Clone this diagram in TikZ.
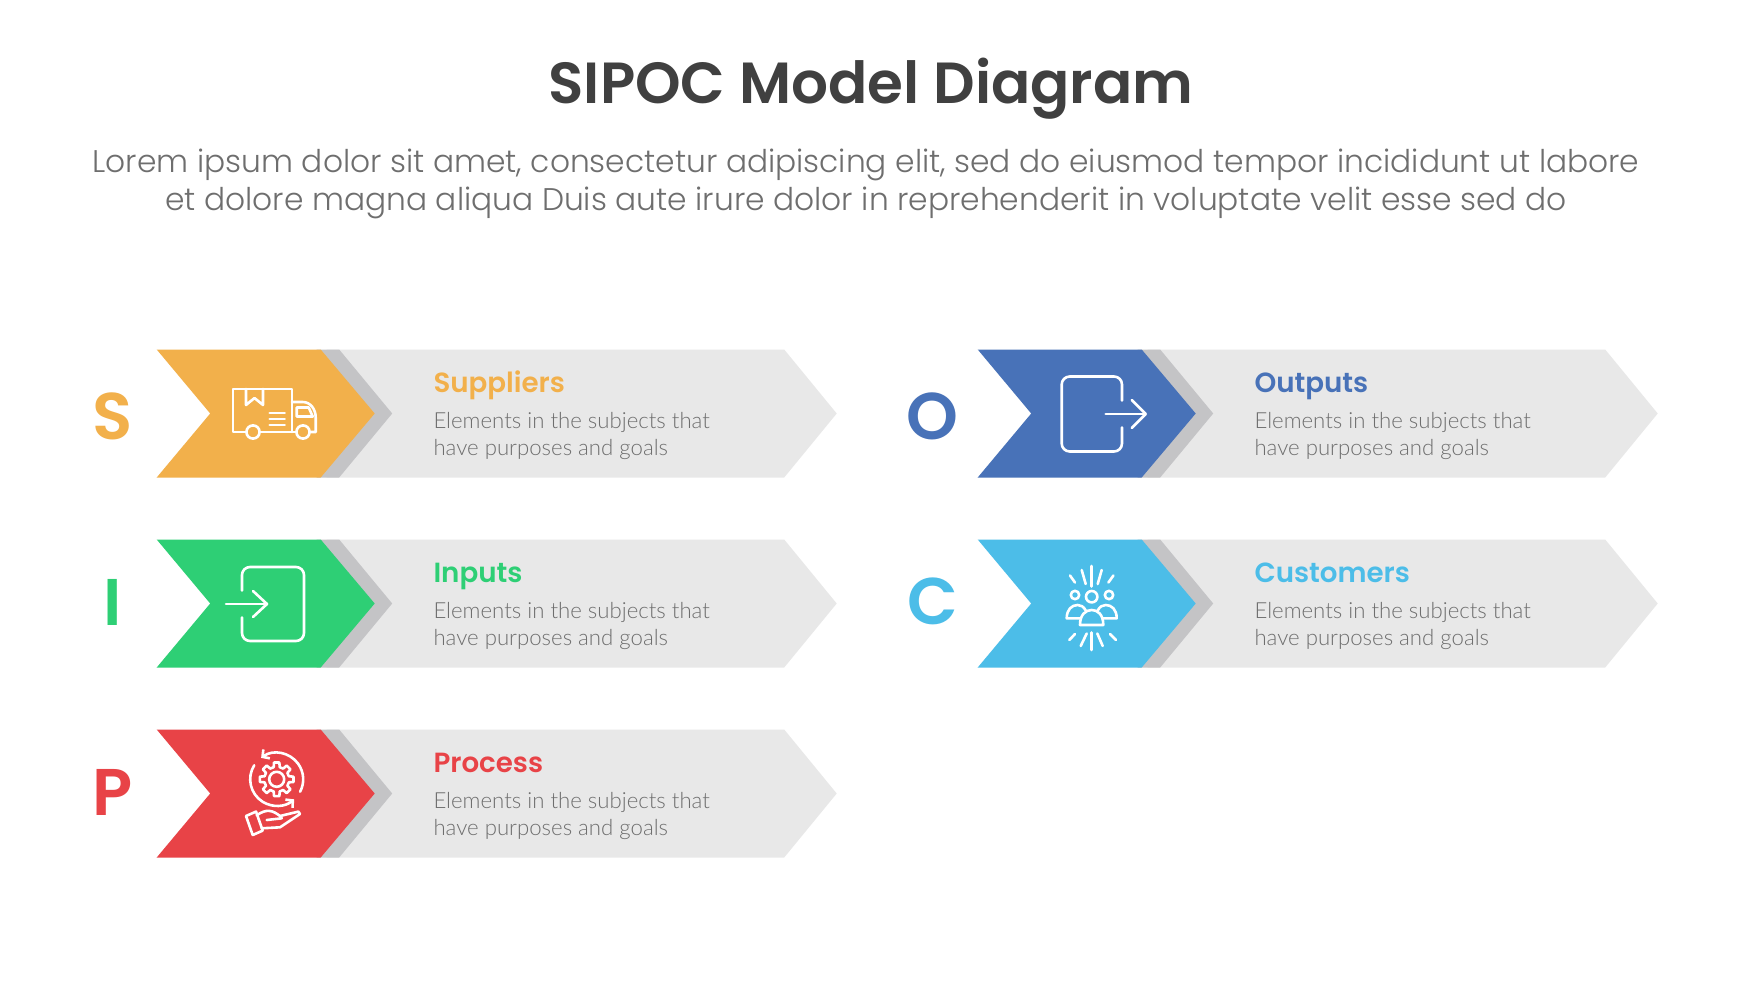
\documentclass[tikz,border=0pt]{standalone}
\usepackage{fontspec}
\usetikzlibrary{arrows.meta}
\setmainfont{Poppins}
\newfontfamily\titlefont{Poppins SemiBold}
\newfontfamily\leadfont{Poppins Light}
\newfontfamily\bodyfont{Lato Light}
\definecolor{supplierscol}{HTML}{F2B04B}
\definecolor{inputscol}{HTML}{2ECF75}
\definecolor{processcol}{HTML}{E84347}
\definecolor{outputscol}{HTML}{4872B8}
\definecolor{customerscol}{HTML}{4CBDE8}
\definecolor{panelcol}{HTML}{E8E8E8}
\definecolor{shadecol}{HTML}{C4C4C6}
\definecolor{titlecol}{HTML}{404040}
\definecolor{leadcol}{HTML}{6E6E6E}
\begin{document}
\begin{tikzpicture}[x=1pt, y=-1pt]
            \tikzstyle{panel} = [fill=panelcol]
            \tikzstyle{shade} = [fill=shadecol]
            \tikzstyle{icon} = [draw=white, line width=2.6pt, line cap=round, line join=round]
            \tikzstyle{letter} = [anchor=base, inner sep=0pt, font=\titlefont\fontsize{66}{66}\selectfont]
            \tikzstyle{heading} = [anchor=base west, inner sep=0pt, font=\titlefont\fontsize{27.7}{28}\selectfont]
            \tikzstyle{body} = [anchor=west, inner sep=0pt, align=left, text=leadcol, font=\bodyfont\fontsize{22.2}{27}\selectfont]
            \useasboundingbox (0, 0) rectangle (1742, 980);
            \fill[white] (0, 0) rectangle (1742, 980);
            \node[text=titlecol, font=\titlefont\fontsize{58}{58}\selectfont] (title) at (871, 88.5) {SIPOC Model Diagram};
            \node[align=center, text=leadcol, font=\leadfont\fontsize{31.3}{38}\selectfont] (lead) at (866, 184) {Lorem ipsum dolor sit amet, consectetur adipiscing elit, sed do eiusmod tempor incididunt ut labore\\et dolore magna aliqua Duis aute irure dolor in reprehenderit in voluptate velit esse sed do};
            \begin{scope}[xshift=156.7pt, yshift=-349.5pt]
                \fill[panel] (170, 0) -- (627.5, 0) -- (680, 64) -- (627.5, 128) -- (170, 128) -- cycle;
                \fill[shade] (160, 0) -- (182.5, 0) -- (235.5, 64) -- (182.5, 128) -- (160, 128) -- cycle;
                \fill[supplierscol] (0, 0) -- (164, 0) -- (218, 64) -- (164, 128) -- (0, 128) -- (53.5, 64) -- cycle;
                \node[letter, text=supplierscol] (lettersuppliers) at (-44.5, 89.5) {S};
                \node[heading, text=supplierscol] (headsuppliers) at (276.6, 43) {Suppliers};
                \node[body] (bodysuppliers) at (276.6, 86.5) {Elements in the subjects that\\have purposes and goals};
                \draw[icon] (89.5, 82.5) -- (76.3, 82.5) -- (76.3, 39.5) -- (135.3, 39.5) -- (135.3, 82.5);
                \draw[icon] (103, 82.5) -- (139.6, 82.5);
                \draw[icon] (135.3, 52.5) -- (146, 52.5) .. controls (154, 52.5) and (159, 60) .. (159, 68) -- (159, 82.5) -- (153, 82.5);
                \draw[icon] (140, 58) -- (152, 58) -- (156, 67) -- (140, 67) -- cycle;
                \draw[icon] (96.3, 82.5) circle (6.6pt);
                \draw[icon] (146.3, 82.5) circle (6.6pt);
                \draw[icon] (89.3, 39.5) -- (89.3, 55.5) -- (97.8, 48.5) -- (106.3, 55.5) -- (106.3, 39.5);
                \draw[icon] (113, 63.5) -- (128, 63.5);
                \draw[icon] (113, 69.5) -- (128, 69.5);
                \draw[icon] (113, 75.5) -- (128, 75.5);
            \end{scope}
            \begin{scope}[xshift=156.7pt, yshift=-539.5pt]
                \fill[panel] (170, 0) -- (627.5, 0) -- (680, 64) -- (627.5, 128) -- (170, 128) -- cycle;
                \fill[shade] (160, 0) -- (182.5, 0) -- (235.5, 64) -- (182.5, 128) -- (160, 128) -- cycle;
                \fill[inputscol] (0, 0) -- (164, 0) -- (218, 64) -- (164, 128) -- (0, 128) -- (53.5, 64) -- cycle;
                \node[letter, text=inputscol] (letterinputs) at (-44.5, 85.5) {I};
                \node[heading, text=inputscol] (headinputs) at (276.6, 43) {Inputs};
                \node[body] (bodyinputs) at (276.6, 86.5) {Elements in the subjects that\\have purposes and goals};
                \draw[icon, rounded corners=8pt] (85.3, 51) -- (85.3, 27.5) -- (147.3, 27.5) -- (147.3, 101.5) -- (85.3, 101.5) -- (85.3, 78);
                \draw[icon] (69.3, 64.5) -- (110.3, 64.5);
                \draw[icon] (96.3, 51.5) -- (110.3, 64.5) -- (96.3, 77.5);
            \end{scope}
            \begin{scope}[xshift=156.7pt, yshift=-729.5pt]
                \fill[panel] (170, 0) -- (627.5, 0) -- (680, 64) -- (627.5, 128) -- (170, 128) -- cycle;
                \fill[shade] (160, 0) -- (182.5, 0) -- (235.5, 64) -- (182.5, 128) -- (160, 128) -- cycle;
                \fill[processcol] (0, 0) -- (164, 0) -- (218, 64) -- (164, 128) -- (0, 128) -- (53.5, 64) -- cycle;
                \node[letter, text=processcol] (letterprocess) at (-44.5, 85.5) {P};
                \node[heading, text=processcol] (headprocess) at (276.6, 43) {Process};
                \node[body] (bodyprocess) at (276.6, 86.5) {Elements in the subjects that\\have purposes and goals};
                \begin{scope}[shift={(120, 49.8)}, y=1pt, >={Straight Barb[length=5pt, width=11pt]}]
                    \draw[icon] (-9:17) -- (9:17) -- (14:12.5) -- (31:12.5) -- (36:17) -- (54:17) -- (59:12.5) -- (76:12.5) -- (81:17) -- (99:17) -- (104:12.5) -- (121:12.5) -- (126:17) -- (144:17) -- (149:12.5) -- (166:12.5) -- (171:17) -- (189:17) -- (194:12.5) -- (211:12.5) -- (216:17) -- (234:17) -- (239:12.5) -- (256:12.5) -- (261:17) -- (279:17) -- (284:12.5) -- (301:12.5) -- (306:17) -- (324:17) -- (329:12.5) -- (346:12.5) -- cycle;
                    \draw[icon] (0, 0) circle (7.5pt);
                    \draw[icon, <-] (126:26.5) arc[start angle=126, end angle=-28, radius=26.5pt];
                    \draw[icon, ->] (148:26.5) arc[start angle=148, end angle=311, radius=26.5pt];
                    \draw[icon] (-30.7, -36.7) -- (-20.7, -32.3) -- (-14, -51.3) -- (-24, -55.7) -- cycle;
                    \draw[icon] (-20, -36) .. controls (-10, -29) and (-4, -31) .. (3.3, -36.7) -- (21.7, -32.3) -- (23.3, -34.7) -- (3.3, -48) -- (-15, -49);
                    \draw[icon] (3.3, -36.7) -- (5, -39) -- (-10, -40.7);
                \end{scope}
            \end{scope}
            \begin{scope}[xshift=977.7pt, yshift=-349.5pt]
                \fill[panel] (170, 0) -- (627.5, 0) -- (680, 64) -- (627.5, 128) -- (170, 128) -- cycle;
                \fill[shade] (160, 0) -- (182.5, 0) -- (235.5, 64) -- (182.5, 128) -- (160, 128) -- cycle;
                \fill[outputscol] (0, 0) -- (164, 0) -- (218, 64) -- (164, 128) -- (0, 128) -- (53.5, 64) -- cycle;
                \node[letter, text=outputscol] (letteroutputs) at (-45.6, 89.5) {O};
                \node[heading, text=outputscol] (headoutputs) at (276.6, 43) {Outputs};
                \node[body] (bodyoutputs) at (276.6, 86.5) {Elements in the subjects that\\have purposes and goals};
                \draw[icon, rounded corners=8pt] (144.3, 51) -- (144.3, 27) -- (84, 27) -- (84, 102) -- (144.3, 102) -- (144.3, 78);
                \draw[icon] (128, 64.5) -- (168, 64.5);
                \draw[icon] (154, 50.5) -- (168, 64.5) -- (154, 78.5);
            \end{scope}
            \begin{scope}[xshift=977.7pt, yshift=-539.5pt]
                \fill[panel] (170, 0) -- (627.5, 0) -- (680, 64) -- (627.5, 128) -- (170, 128) -- cycle;
                \fill[shade] (160, 0) -- (182.5, 0) -- (235.5, 64) -- (182.5, 128) -- (160, 128) -- cycle;
                \fill[customerscol] (0, 0) -- (164, 0) -- (218, 64) -- (164, 128) -- (0, 128) -- (53.5, 64) -- cycle;
                \node[letter, text=customerscol] (lettercustomers) at (-44.6, 84.5) {C};
                \node[heading, text=customerscol] (headcustomers) at (276.6, 43) {Customers};
                \node[body] (bodycustomers) at (276.6, 86.5) {Elements in the subjects that\\have purposes and goals};
                \draw[icon] (114, 26.5) -- (114, 47);
                \draw[icon] (104, 30.5) -- (108, 44.5);
                \draw[icon] (124, 30.5) -- (120, 44.5);
                \draw[icon] (92.3, 36) -- (97.3, 43);
                \draw[icon] (135.7, 36) -- (130.7, 43);
                \draw[icon] (114, 93) -- (114, 110.5);
                \draw[icon] (109, 94) -- (103, 106.5);
                \draw[icon] (119.6, 94) -- (125, 106.5);
                \draw[icon] (97.3, 94.5) -- (91.6, 100.5);
                \draw[icon] (132.3, 94.5) -- (138.3, 100.5);
                \draw[icon] (114, 57.2) circle (5.7pt);
                \draw[icon] (97.3, 55.5) circle (4.2pt);
                \draw[icon] (131.3, 55.5) circle (4.2pt);
                \draw[icon] (102.3, 85.5) -- (125.6, 85.5) .. controls (125.6, 75) and (120, 70.5) .. (114, 70.5) .. controls (108, 70.5) and (102.3, 75) .. (102.3, 85.5) -- cycle;
                \draw[icon] (102.3, 78.8) -- (89, 78.8) .. controls (89, 70) and (94, 65.5) .. (100, 65.5) .. controls (103, 65.5) and (106, 67) .. (108, 71);
                \draw[icon] (125.6, 78.8) -- (139, 78.8) .. controls (139, 70) and (134, 65.5) .. (128, 65.5) .. controls (125, 65.5) and (122, 67) .. (120, 71);
            \end{scope}
        \end{tikzpicture}
\end{document}
